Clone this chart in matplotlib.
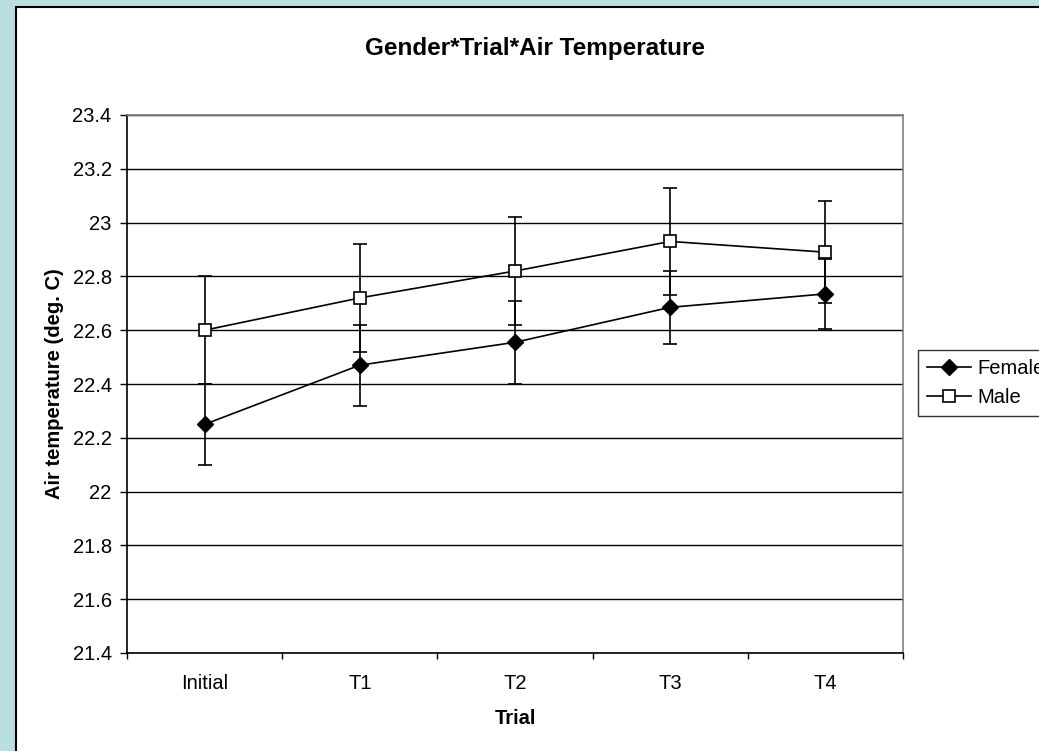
import numpy as np
import matplotlib.pyplot as plt
from matplotlib.patches import Rectangle
from matplotlib.ticker import FuncFormatter, FixedLocator

plt.rcParams['font.family'] = ['Liberation Sans', 'DejaVu Sans']

trials = ['Initial', 'T1', 'T2', 'T3', 'T4']
female = [22.25, 22.47, 22.555, 22.685, 22.735]
female_err = [0.15, 0.15, 0.155, 0.135, 0.13]
male = [22.60, 22.72, 22.82, 22.93, 22.89]
male_err = [0.20, 0.20, 0.20, 0.20, 0.19]
yticks = [21.4, 21.6, 21.8, 22.0, 22.2, 22.4, 22.6, 22.8, 23.0, 23.2, 23.4]

fig = plt.figure(figsize=(10.39, 7.51), dpi=100)
fig.patch.set_facecolor('#b9dfe2')

# white chart area with black frame (runs off the right/bottom edge)
W, H = 1039, 751
fig.patches.append(Rectangle((16 / W, -0.05), 1.1, 1 - 7 / H + 0.05,
                             transform=fig.transFigure, facecolor='white',
                             edgecolor='black', linewidth=1.5, zorder=-10))

ax = fig.add_axes([127 / W, 1 - 653 / H, (903 - 127) / W, (653 - 115) / H])
ax.set_facecolor('white')

x = np.arange(len(trials))
ax.errorbar(x, female, yerr=female_err, color='black', lw=1.2,
            marker='D', ms=8, mfc='black', mec='black',
            capsize=5, elinewidth=1.2, capthick=1.2, label='Female', zorder=3)
ax.errorbar(x, male, yerr=male_err, color='black', lw=1.2,
            marker='s', ms=8.5, mfc='white', mec='black', mew=1.2,
            capsize=5, elinewidth=1.2, capthick=1.2, label='Male', zorder=3)

ax.set_xlim(-0.5, len(trials) - 0.5)
ax.set_ylim(21.4, 23.4)
ax.set_yticks(yticks)
ax.yaxis.set_major_formatter(FuncFormatter(lambda v, p: '{:g}'.format(round(v, 1))))
ax.set_xticks(x)
ax.set_xticklabels(trials)
ax.xaxis.set_minor_locator(FixedLocator(np.arange(-0.5, len(trials), 1.0)))
ax.tick_params(axis='x', which='major', length=0, pad=15, labelsize=14.5)
ax.tick_params(axis='x', which='minor', length=4.5, direction='out', width=1)
ax.tick_params(axis='y', length=5, direction='out', width=1, labelsize=14.5, pad=6)

ax.grid(axis='y', color='black', lw=1)
ax.set_axisbelow(True)
for s in ['top', 'right']:
    ax.spines[s].set_color('#808080')
    ax.spines[s].set_linewidth(1.2)
for s in ['left', 'bottom']:
    ax.spines[s].set_color('black')
    ax.spines[s].set_linewidth(1.2)

ax.set_xlabel('Trial', fontsize=14.5, fontweight='bold', labelpad=12)
ax.set_ylabel('Air temperature (deg. C)', fontsize=14.5, fontweight='bold', labelpad=6)
fig.text(535 / W, 1 - 48 / H, 'Gender*Trial*Air Temperature', fontsize=17.5,
         fontweight='bold', ha='center', va='center')

handles, labels = ax.get_legend_handles_labels()
handles = [h[0] for h in handles]
leg = fig.legend(handles, labels, loc='upper left',
                 bbox_to_anchor=(918 / W, 1 - 350 / H), fontsize=14.5,
                 frameon=True, fancybox=False, edgecolor='black',
                 borderpad=0.45, handlelength=2.2, handletextpad=0.3,
                 labelspacing=0.5, borderaxespad=0)
leg.get_frame().set_linewidth(1.0)

fig.savefig('out.png', dpi=100, facecolor=fig.get_facecolor())
